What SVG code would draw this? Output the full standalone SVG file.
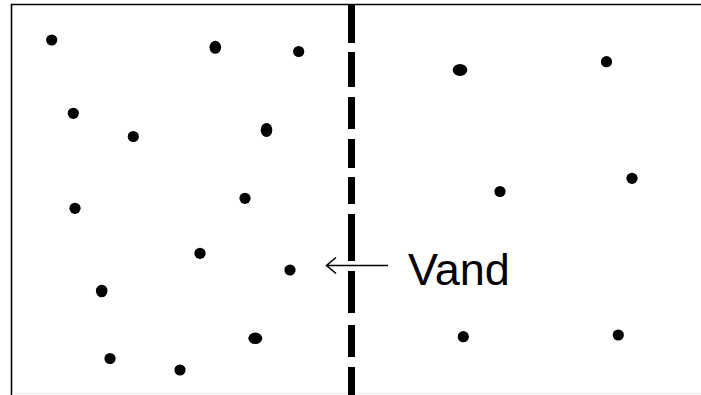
<svg xmlns="http://www.w3.org/2000/svg" width="701" height="395" viewBox="0 0 701 395">
<style>
.dot{fill:#000}
.frame{fill:none;stroke:#000;stroke-width:1.6}
.wall{fill:none;stroke:#000;stroke-width:7}
.arrow{fill:none;stroke:#000;stroke-width:1.6}
.label{font-family:"Liberation Sans",Arial,sans-serif;font-size:45px;fill:#000}
</style>
<rect width="701" height="395" fill="#fff"/>
<g id="frame">
<path class="frame" d="M11.5,395 V4.5 H701"/>
<path d="M12,393.5 H701" stroke="#eeeeee" stroke-width="1.5" fill="none"/>
</g>
<g id="wall">
<path class="wall" d="M351.5,5 V43 M351.5,52 V87 M351.5,97 V129 M351.5,139 V168 M351.5,177 V204 M351.5,214 V261 M351.5,271 V313 M351.5,325 V357 M351.5,367 V395"/>
</g>
<g id="particles-left">
<circle class="dot" cx="51.7" cy="40" r="5.6"/>
<ellipse class="dot" cx="215.3" cy="47.3" rx="5.8" ry="6.5"/>
<circle class="dot" cx="298.7" cy="51.5" r="5.6"/>
<circle class="dot" cx="73.3" cy="113.3" r="5.6"/>
<circle class="dot" cx="133.3" cy="136.5" r="5.6"/>
<ellipse class="dot" cx="266.5" cy="130" rx="5.8" ry="7"/>
<circle class="dot" cx="75" cy="208.3" r="5.6"/>
<circle class="dot" cx="245" cy="198.3" r="5.6"/>
<circle class="dot" cx="200" cy="253.3" r="5.6"/>
<circle class="dot" cx="290" cy="270" r="5.6"/>
<ellipse class="dot" cx="101.7" cy="291" rx="5.8" ry="6.3"/>
<ellipse class="dot" cx="255.3" cy="338.3" rx="7" ry="5.8"/>
<circle class="dot" cx="110" cy="358.5" r="5.6"/>
<circle class="dot" cx="180" cy="370" r="5.6"/>
</g>
<g id="particles-right">
<ellipse class="dot" cx="460" cy="70" rx="7.3" ry="6"/>
<circle class="dot" cx="606.5" cy="61.7" r="5.6"/>
<circle class="dot" cx="500" cy="191.5" r="5.6"/>
<circle class="dot" cx="632" cy="178.3" r="5.6"/>
<circle class="dot" cx="463.3" cy="336.7" r="5.6"/>
<circle class="dot" cx="618.3" cy="335" r="5.6"/>
</g>
<g id="connectors">
<path class="arrow" d="M388,265.5 H326.5 M336,257.5 L326.5,265.5 L336,273.5"/>
</g>
<g id="label-vand">
<text class="label" x="408" y="285">Vand</text>
</g>
</svg>
